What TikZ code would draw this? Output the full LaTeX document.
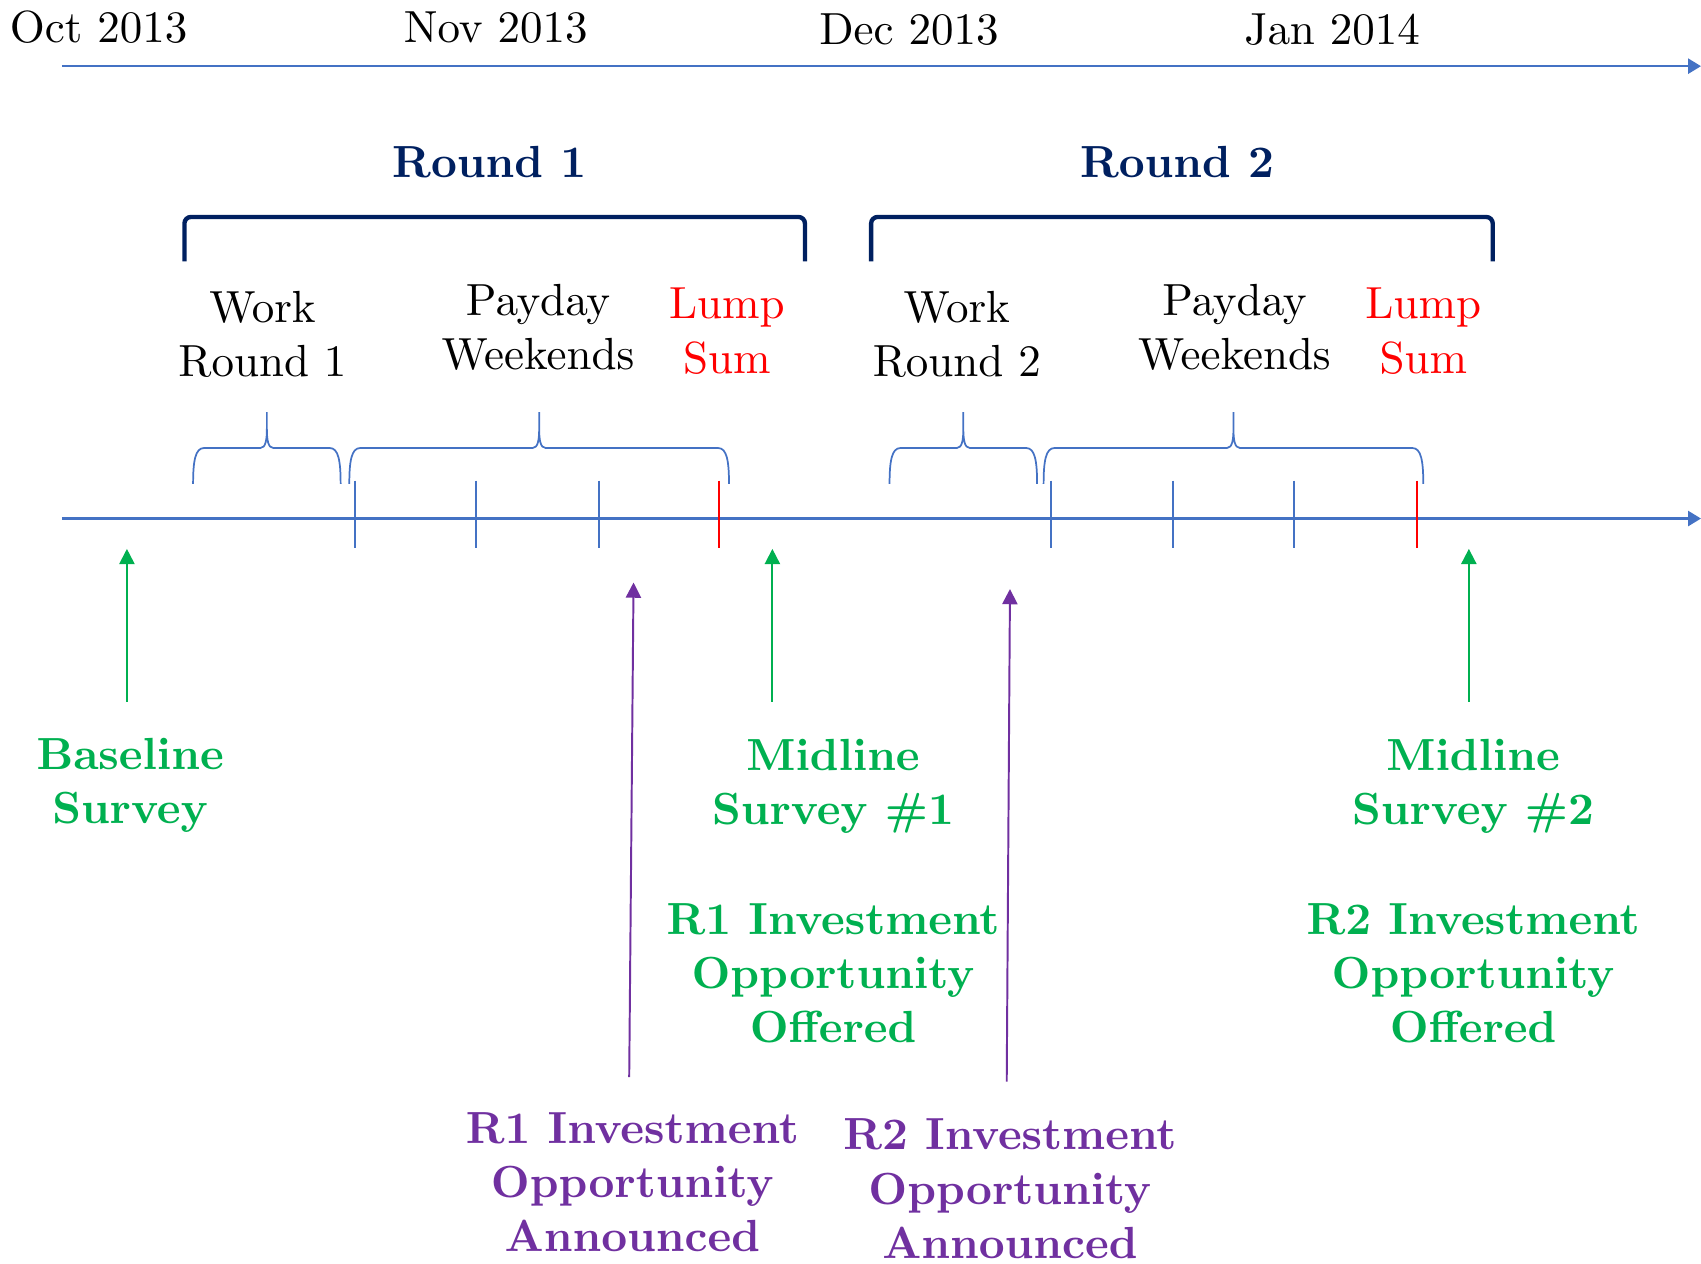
\documentclass[tikz,border=0pt]{standalone}
\usepackage{xcolor}
\usepackage{amsmath}
\usepackage{tikz}
\usetikzlibrary{arrows.meta,positioning}

\definecolor{axisblue}{RGB}{68,114,196}
\definecolor{roundnavy}{RGB}{0,32,96}
\definecolor{surveygreen}{RGB}{0,176,80}
\definecolor{investpurple}{RGB}{112,48,160}

% Computer Modern 10pt design, scaled up
\DeclareFontFamily{OT1}{cmten}{}
\DeclareFontShape{OT1}{cmten}{m}{n}{<-> cmr10}{}
\DeclareFontShape{OT1}{cmten}{bx}{n}{<-> cmbx10}{}
\newcommand{\tenfont}{\fontencoding{OT1}\fontfamily{cmten}\fontsize{20.74}{25}\selectfont}

\tikzset{
    timeaxis/.style={axisblue, line width=1pt, -{Triangle[length=6pt,width=7pt]}},
    weektick/.style={axisblue, line width=0.8pt},
    lumptick/.style={red, line width=0.8pt},
    phasebrace/.style={axisblue, line width=0.8pt},
    roundbracket/.style={roundnavy, line width=2pt, rounded corners=3pt},
    txt/.style={font=\tenfont, align=center, anchor=base, inner sep=0pt},
    roundtxt/.style={txt, font=\tenfont\bfseries, text=roundnavy},
    lumptxt/.style={txt, text=red},
    surveytxt/.style={txt, font=\tenfont\bfseries, text=surveygreen},
    investtxt/.style={txt, font=\tenfont\bfseries, text=investpurple},
    surveyarrow/.style={surveygreen, line width=0.9pt, -{Triangle[length=7pt,width=7pt]}},
    investarrow/.style={investpurple, line width=0.9pt, -{Triangle[length=7pt,width=7pt]}},
}

% curly brace with its tip pointing up: left x, right x, tip x
\newcommand{\upbrace}[3]{
    \draw[phasebrace] (#1,-446) .. controls (#1,-425) and ({#1+2},-413) .. ({#1+10},-413)
        -- ({#3-6},-413) .. controls ({#3-1},-413) and (#3,-405) .. (#3,-395) -- (#3,-380)
        -- (#3,-395) .. controls (#3,-405) and ({#3+1},-413) .. ({#3+6},-413)
        -- ({#2-10},-413) .. controls ({#2-2},-413) and (#2,-425) .. (#2,-446);
}

\begin{document}
\begin{tikzpicture}[x=0.5pt, y=0.5pt]
    \useasboundingbox (0,0) rectangle (1568,-1165);

    % months
    \node[txt] (oct) at (91,-39) {Oct 2013};
    \node[txt] (nov) at (457,-39) {Nov 2013};
    \node[txt] (dec) at (838,-41) {Dec 2013};
    \node[txt] (jan) at (1228,-41) {Jan 2014};
    \coordinate (topstart) at (57,-61);
    \coordinate (topend) at (1568,-61);
    \draw[timeaxis] (topstart) -- (topend);

    % rounds
    \node[roundtxt] (round1) at (451,-164) {Round 1};
    \node[roundtxt] (round2) at (1085,-164) {Round 2};
    \draw[roundbracket] (170,-241) -- (170,-200) -- (742,-200) -- (742,-241);
    \draw[roundbracket] (803,-241) -- (803,-200) -- (1376,-200) -- (1376,-241);

    \node[txt] (work1) at (242,-347) {Work\\Round 1};
    \node[txt] (payday1) at (496,-341) {Payday\\Weekends};
    \node[lumptxt] (lump1) at (670,-344) {Lump\\Sum};
    \node[txt] (work2) at (882,-347) {Work\\Round 2};
    \node[txt] (payday2) at (1138,-341) {Payday\\Weekends};
    \node[lumptxt] (lump2) at (1312,-344) {Lump\\Sum};

    \upbrace{178}{314}{246}
    \upbrace{322}{672}{497}
    \upbrace{820}{956}{888}
    \upbrace{962}{1312}{1137}

    % main time line
    \coordinate (linestart) at (57,-478);
    \coordinate (lineend) at (1568,-478);
    \draw[timeaxis] (linestart) -- (lineend);
    \foreach \x in {327,439,552,969,1081,1193}
        \draw[weektick] (\x,-443) -- (\x,-505);
    \foreach \x in {663,1306}
        \draw[lumptick] (\x,-443) -- (\x,-505);

    % surveys
    \node[surveytxt] (baseline) at (120,-759) {Baseline\\Survey};
    \node[surveytxt] (midline1) at (768,-760) {Midline\\Survey \#1};
    \node[surveytxt] (offered1) at (768,-961) {R1 Investment\\Opportunity\\Offered};
    \node[surveytxt] (midline2) at (1358,-760) {Midline\\Survey \#2};
    \node[surveytxt] (offered2) at (1358,-961) {R2 Investment\\Opportunity\\Offered};

    \coordinate (basetail) at (117,-647);
    \coordinate (basehead) at (117,-506);
    \coordinate (mid1tail) at (712,-647);
    \coordinate (mid1head) at (712,-506);
    \coordinate (mid2tail) at (1354,-647);
    \coordinate (mid2head) at (1354,-506);
    \draw[surveyarrow] (basetail) -- (basehead);
    \draw[surveyarrow] (mid1tail) -- (mid1head);
    \draw[surveyarrow] (mid2tail) -- (mid2head);

    % announcements
    \node[investtxt] (announce1) at (583,-1154) {R1 Investment\\Opportunity\\Announced};
    \node[investtxt] (announce2) at (931,-1160) {R2 Investment\\Opportunity\\Announced};
    \coordinate (ann1tail) at (580,-993);
    \coordinate (ann1head) at (584,-537);
    \coordinate (ann2tail) at (928,-997);
    \coordinate (ann2head) at (931,-543);
    \draw[investarrow] (ann1tail) -- (ann1head);
    \draw[investarrow] (ann2tail) -- (ann2head);
\end{tikzpicture}
\end{document}
